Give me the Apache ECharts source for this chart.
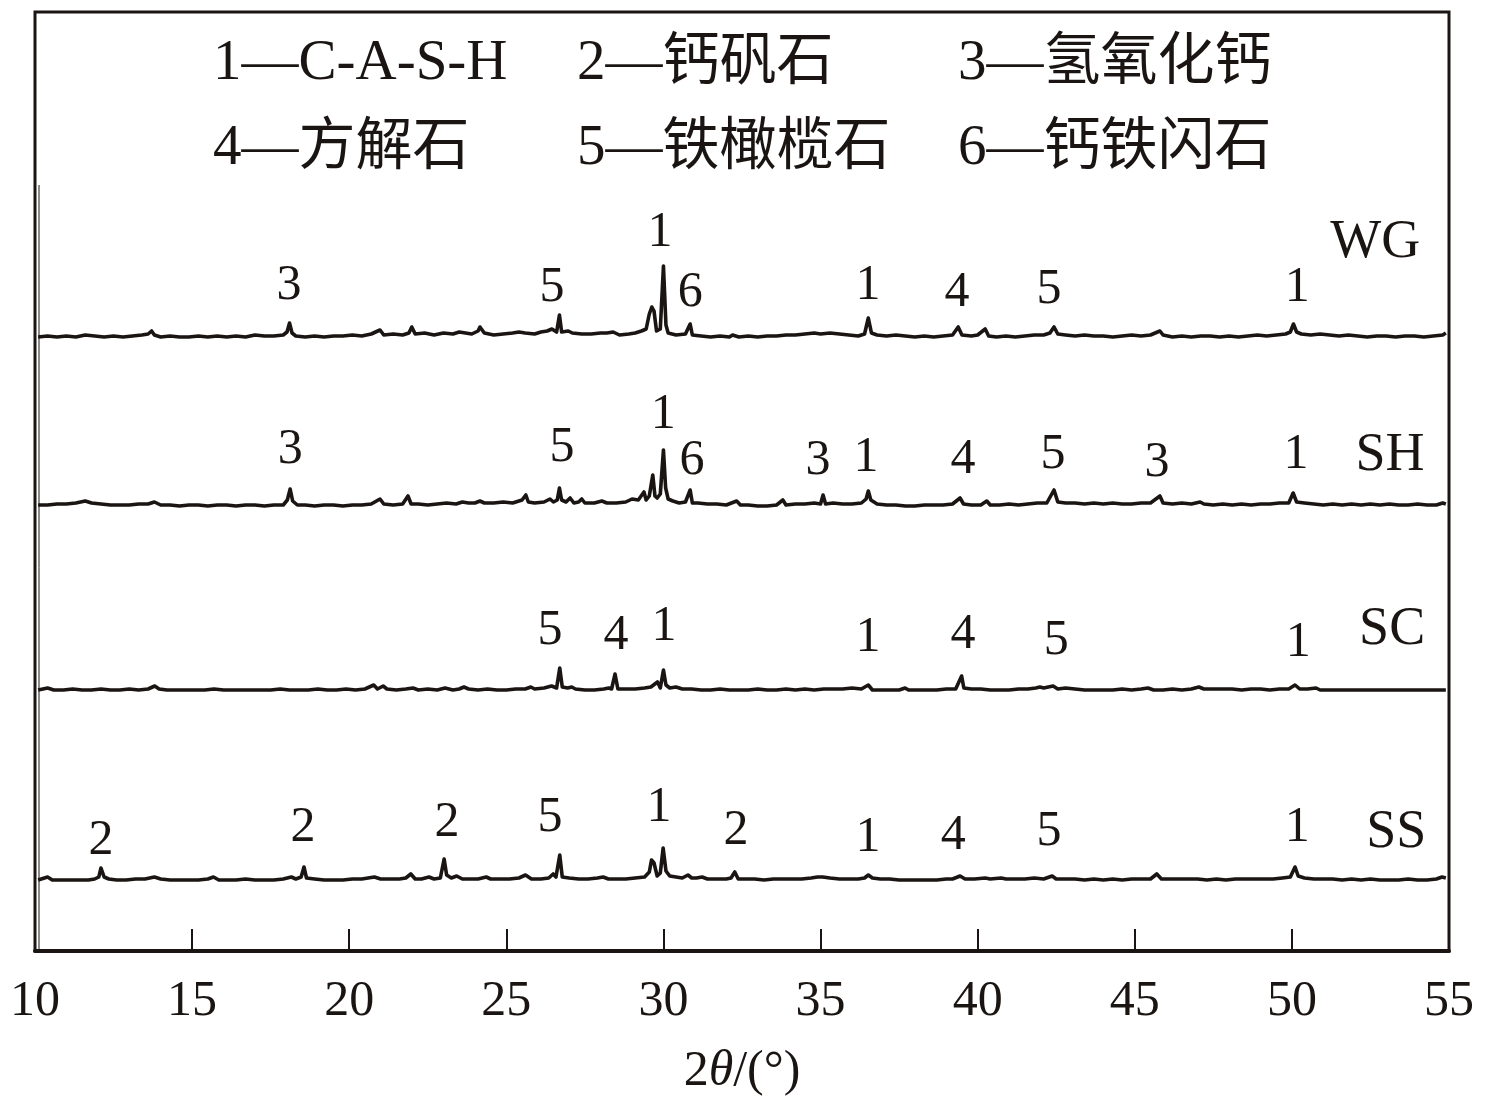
<!DOCTYPE html>
<html><head><meta charset="utf-8">
<script src="https://cdn.jsdelivr.net/npm/echarts@6/dist/echarts.min.js"></script>
<style>html,body{margin:0;padding:0;background:#fff}#c{width:1485px;height:1112px}</style>
</head><body><div id="c"></div>
<script>
// 2θ ticks
const xTicks = [10, 15, 20, 25, 30, 35, 40, 45, 50, 55];
const sampleNames = ['WG', 'SH', 'SC', 'SS'];
// vertical stacking offsets (arbitrary intensity units)
const offsets = [612, 443, 258, 68];

// [2θ, intensity]
const WG = [[10.1,2],[10.4,3],[10.7,2],[11.0,3],[11.3,2],[11.6,4],[11.9,3],[12.2,2],[12.5,3],[12.8,2],[13.1,3],[13.4,4],[13.6,5],[13.71,8],[13.8,4],[14.0,2],[14.3,3],[14.6,2],[14.9,2],[15.2,3],[15.5,2],[15.8,3],[16.1,2],[16.4,3],[16.7,2],[17.0,4],[17.3,3],[17.6,3],[17.9,4],[18.02,7],[18.1,16],[18.18,6],[18.3,3],[18.6,2],[18.9,3],[19.2,2],[19.5,3],[19.8,3],[20.1,4],[20.4,3],[20.7,5],[20.98,9],[21.1,4],[21.4,5],[21.7,4],[21.9,6],[21.99,12],[22.1,5],[22.4,6],[22.7,4],[23.0,6],[23.3,5],[23.5,7],[23.7,6],[23.9,5],[24.1,8],[24.16,12],[24.3,6],[24.6,4],[24.9,5],[25.2,6],[25.4,7],[25.6,6],[25.9,5],[26.1,7],[26.3,8],[26.45,10],[26.6,7],[26.69,24],[26.76,7],[26.97,8],[27.1,6],[27.4,5],[27.7,5],[28.0,6],[28.2,6],[28.4,7],[28.6,4],[28.9,5],[29.1,6],[29.3,8],[29.45,10],[29.55,25],[29.63,32],[29.7,28],[29.78,8],[29.9,10],[30.0,73],[30.08,14],[30.15,6],[30.4,4],[30.7,5],[30.85,15],[30.92,4],[31.2,3],[31.5,2],[31.8,3],[32.1,2],[32.2,4],[32.4,2],[32.7,3],[33.0,2],[33.3,3],[33.6,3],[33.9,4],[34.2,4],[34.5,5],[34.8,6],[35.0,5],[35.3,6],[35.6,5],[35.9,4],[36.2,3],[36.4,5],[36.52,21],[36.62,6],[36.8,4],[37.1,3],[37.4,4],[37.7,3],[38.0,2],[38.3,3],[38.6,2],[38.9,3],[39.2,4],[39.38,12],[39.5,4],[39.8,3],[40.0,4],[40.24,10],[40.35,3],[40.6,2],[40.9,3],[41.2,2],[41.5,3],[41.8,4],[42.1,4],[42.3,6],[42.43,12],[42.55,5],[42.8,4],[43.1,3],[43.4,4],[43.7,3],[44.0,3],[44.3,2],[44.6,3],[44.9,4],[45.2,3],[45.5,4],[45.8,8],[45.9,4],[46.2,2],[46.5,3],[46.8,2],[47.1,3],[47.4,3],[47.7,2],[48.0,3],[48.3,2],[48.6,3],[48.9,4],[49.2,3],[49.5,4],[49.8,5],[49.95,7],[50.05,15],[50.15,7],[50.3,5],[50.6,4],[50.9,5],[51.2,4],[51.5,3],[51.8,4],[52.1,3],[52.4,2],[52.7,3],[53.0,3],[53.3,2],[53.6,3],[53.9,3],[54.2,2],[54.5,3],[54.8,4],[54.9,6]];

const SH = [[10.1,3],[10.4,3],[10.7,4],[11.0,4],[11.3,5],[11.6,7],[11.8,5],[12.1,4],[12.4,3],[12.7,3],[13.0,3],[13.3,4],[13.6,4],[13.8,6],[14.0,3],[14.3,3],[14.6,2],[14.9,3],[15.2,3],[15.5,2],[15.8,3],[16.1,3],[16.4,2],[16.7,3],[17.0,3],[17.3,2],[17.6,3],[17.9,3],[18.03,8],[18.12,19],[18.2,7],[18.35,3],[18.6,3],[18.9,2],[19.2,3],[19.5,3],[19.8,2],[20.1,3],[20.4,3],[20.7,4],[20.98,9],[21.1,4],[21.4,3],[21.7,4],[21.87,12],[21.97,4],[22.2,4],[22.5,3],[22.8,4],[23.1,5],[23.4,4],[23.6,6],[23.8,5],[24.0,5],[24.16,7],[24.3,5],[24.6,5],[24.9,6],[25.2,5],[25.4,7],[25.5,8],[25.62,13],[25.7,6],[25.9,5],[26.2,6],[26.39,9],[26.5,6],[26.62,8],[26.69,20],[26.76,8],[26.9,6],[27.03,10],[27.15,5],[27.3,6],[27.4,9],[27.5,5],[27.8,5],[28.04,7],[28.2,5],[28.5,5],[28.8,6],[29.0,9],[29.2,8],[29.38,16],[29.45,8],[29.55,12],[29.66,33],[29.73,12],[29.8,10],[29.9,14],[30.0,58],[30.07,20],[30.15,9],[30.3,7],[30.5,5],[30.7,6],[30.85,18],[30.92,5],[31.1,5],[31.4,4],[31.7,4],[32.0,3],[32.33,7],[32.45,3],[32.7,3],[33.0,2],[33.3,2],[33.6,3],[33.8,8],[33.9,3],[34.2,4],[34.5,4],[34.8,5],[35.0,4],[35.08,13],[35.16,4],[35.4,5],[35.7,4],[36.0,4],[36.3,5],[36.45,9],[36.52,17],[36.6,8],[36.8,4],[37.1,3],[37.4,3],[37.7,2],[38.0,2],[38.3,3],[38.6,3],[38.9,3],[39.2,4],[39.44,10],[39.55,4],[39.8,3],[40.1,3],[40.29,7],[40.4,3],[40.7,3],[41.0,4],[41.3,3],[41.6,4],[41.9,5],[42.2,5],[42.43,18],[42.55,6],[42.8,5],[43.1,5],[43.4,4],[43.7,5],[44.0,4],[44.3,5],[44.6,4],[44.9,4],[45.2,5],[45.5,5],[45.8,12],[45.9,5],[46.2,4],[46.5,5],[46.8,4],[47.08,6],[47.2,4],[47.5,3],[47.8,4],[48.1,3],[48.4,4],[48.7,3],[49.0,4],[49.3,4],[49.6,5],[49.9,5],[50.04,15],[50.15,6],[50.4,5],[50.7,4],[51.0,3],[51.3,4],[51.6,3],[51.9,4],[52.2,3],[52.5,4],[52.8,3],[53.1,4],[53.4,3],[53.7,3],[54.0,4],[54.3,3],[54.6,3],[54.8,5],[54.9,4]];

const SC = [[10.1,3],[10.4,5],[10.6,3],[10.9,3],[11.2,4],[11.5,3],[11.8,3],[12.1,4],[12.4,3],[12.7,3],[13.0,4],[13.3,3],[13.6,4],[13.81,7],[13.95,4],[14.2,3],[14.5,3],[14.8,3],[15.1,3],[15.4,3],[15.7,4],[16.0,3],[16.3,3],[16.6,3],[16.9,3],[17.2,3],[17.5,3],[17.8,4],[18.1,3],[18.4,3],[18.7,3],[19.0,4],[19.3,3],[19.6,3],[19.9,4],[20.2,3],[20.5,4],[20.78,8],[20.9,4],[21.08,7],[21.2,4],[21.5,3],[21.8,4],[22.03,5],[22.2,3],[22.5,4],[22.8,3],[23.05,5],[23.3,3],[23.5,4],[23.65,6],[23.8,4],[24.1,3],[24.4,4],[24.7,3],[25.0,3],[25.3,4],[25.6,4],[25.78,6],[25.9,4],[26.2,5],[26.44,7],[26.6,5],[26.7,25],[26.78,6],[26.95,5],[27.08,6],[27.2,4],[27.5,3],[27.8,3],[28.1,4],[28.26,5],[28.35,4],[28.46,19],[28.55,4],[28.8,4],[29.1,4],[29.4,5],[29.6,6],[29.81,11],[29.9,5],[30.0,23],[30.08,8],[30.2,5],[30.4,6],[30.6,4],[30.9,4],[31.2,3],[31.5,3],[31.8,4],[32.1,3],[32.4,3],[32.7,3],[33.0,4],[33.3,3],[33.6,3],[33.9,4],[34.2,3],[34.5,4],[34.8,3],[35.1,4],[35.4,4],[35.7,4],[36.0,5],[36.3,4],[36.52,8],[36.65,3],[36.9,3],[37.2,3],[37.5,3],[37.69,5],[37.8,3],[38.1,3],[38.4,3],[38.7,3],[39.0,4],[39.3,4],[39.49,17],[39.56,5],[39.8,4],[40.1,4],[40.4,3],[40.7,3],[41.0,3],[41.3,4],[41.6,4],[41.85,5],[41.98,6],[42.1,5],[42.4,7],[42.55,4],[42.8,5],[43.1,4],[43.4,3],[43.7,3],[44.0,3],[44.3,3],[44.6,4],[44.9,3],[45.2,4],[45.42,5],[45.6,3],[45.9,3],[46.2,4],[46.5,3],[46.8,4],[47.04,6],[47.2,4],[47.5,4],[47.8,4],[48.1,4],[48.4,3],[48.7,4],[49.0,4],[49.3,3],[49.6,4],[49.9,4],[50.1,8],[50.25,4],[50.5,4],[50.77,5],[50.9,3],[51.2,3],[51.5,3],[51.8,3],[52.1,3],[52.4,3],[52.7,3],[53.0,3],[53.3,3],[53.6,3],[53.9,3],[54.2,3],[54.5,3],[54.8,3],[54.9,3]];

const SS = [[10.1,3],[10.4,6],[10.55,3],[10.8,3],[11.1,3],[11.4,3],[11.7,3],[11.9,4],[12.03,6],[12.1,15],[12.2,6],[12.35,4],[12.6,3],[12.9,3],[13.2,4],[13.5,4],[13.8,6],[14.0,4],[14.3,3],[14.6,3],[14.9,3],[15.2,3],[15.5,4],[15.68,6],[15.85,3],[16.1,3],[16.4,3],[16.7,4],[17.0,3],[17.3,3],[17.6,3],[17.9,4],[18.16,6],[18.3,4],[18.47,6],[18.56,16],[18.64,5],[18.9,4],[19.2,3],[19.5,3],[19.8,3],[20.1,4],[20.4,4],[20.6,5],[20.8,6],[21.0,4],[21.3,4],[21.6,4],[21.8,5],[21.96,9],[22.1,4],[22.3,4],[22.54,6],[22.7,4],[22.9,5],[23.02,24],[23.1,8],[23.25,5],[23.42,7],[23.6,4],[23.9,4],[24.1,4],[24.36,6],[24.5,4],[24.8,4],[25.1,4],[25.4,5],[25.61,8],[25.8,4],[26.1,4],[26.35,5],[26.49,9],[26.58,6],[26.7,28],[26.78,6],[27.0,5],[27.3,4],[27.6,4],[27.9,5],[28.08,6],[28.25,4],[28.5,4],[28.8,4],[29.1,5],[29.4,6],[29.55,11],[29.62,23],[29.7,20],[29.8,7],[29.9,10],[29.99,35],[30.08,12],[30.2,7],[30.4,6],[30.6,5],[30.78,8],[30.9,5],[31.05,5],[31.23,6],[31.4,4],[31.7,4],[32.0,4],[32.15,5],[32.27,11],[32.38,4],[32.6,4],[32.9,4],[33.2,3],[33.5,4],[33.8,4],[34.1,4],[34.4,4],[34.7,5],[34.9,6],[35.07,6],[35.3,5],[35.6,4],[35.9,4],[36.2,4],[36.4,5],[36.52,8],[36.65,5],[36.9,4],[37.2,4],[37.5,3],[37.8,3],[38.1,3],[38.4,3],[38.7,3],[39.0,4],[39.2,4],[39.44,7],[39.6,4],[39.9,4],[40.24,5],[40.4,4],[40.75,5],[40.9,4],[41.2,4],[41.5,4],[41.8,5],[42.1,4],[42.37,7],[42.5,4],[42.8,4],[43.1,4],[43.4,3],[43.7,4],[44.0,3],[44.3,4],[44.6,3],[44.9,4],[45.2,4],[45.5,4],[45.7,9],[45.85,4],[46.1,4],[46.4,4],[46.7,4],[47.0,4],[47.3,3],[47.6,4],[47.9,3],[48.2,4],[48.5,4],[48.8,4],[49.1,4],[49.4,4],[49.7,5],[49.95,6],[50.1,16],[50.2,7],[50.4,5],[50.7,4],[51.0,4],[51.3,4],[51.6,3],[51.9,4],[52.2,3],[52.5,4],[52.8,3],[53.1,3],[53.4,3],[53.7,4],[54.0,3],[54.3,3],[54.6,4],[54.78,6],[54.9,5]];

// peak labels: [2θ, height above baseline, phase number]
const WG_labels = [[18.08,53,'3'],[26.45,51,'5'],[29.89,106,'1'],[30.85,46,'6'],[36.51,53,'1'],[39.34,46,'4'],[42.27,49,'5'],[50.17,51,'1']];
const SH_labels = [[18.12,58,'3'],[26.77,60,'5'],[29.99,93,'1'],[30.91,47,'6'],[34.92,47,'3'],[36.45,50,'1'],[39.53,48,'4'],[42.40,53,'5'],[45.71,45,'3'],[50.13,53,'1']];
const SC_labels = [[26.39,62,'5'],[28.49,57,'4'],[30.02,66,'1'],[36.51,55,'1'],[39.53,58,'4'],[42.50,52,'5'],[50.20,50,'1']];
const SS_labels = [[12.10,42,'2'],[18.53,55,'2'],[23.11,60,'2'],[26.39,65,'5'],[29.86,75,'1'],[32.31,52,'2'],[36.51,45,'1'],[39.22,47,'4'],[42.27,51,'5'],[50.17,55,'1']];
// sample name positions: [2θ, height above baseline]
const nameLabels = [[52.65,96],[53.12,52],[53.19,63],[53.32,50]];

const legendRow1 = ['1—C-A-S-H', '2—钙矾石', '3—氢氧化钙'];
const legendRow2 = ['4—方解石', '5—铁橄榄石', '6—钙铁闪石'];

const traces = [WG, SH, SC, SS];
const peakLabels = [WG_labels, SH_labels, SC_labels, SS_labels];

const FONT = '"Liberation Serif", "Times New Roman", "Noto Sans CJK SC", serif';
const INK = '#1a1512';

const series = [];
traces.forEach((tr, i) => {
  series.push({
    type: 'line', name: sampleNames[i], showSymbol: false, symbol: 'none',
    data: tr.map(p => [p[0], p[1] + offsets[i]]),
    lineStyle: { color: INK, width: 3.6, join: 'round' }, animation: false, z: 3
  });
  series.push({
    type: 'scatter', symbolSize: 0, silent: true, animation: false,
    itemStyle: { opacity: 1 },
    data: peakLabels[i].map(l => [l[0], l[1] + offsets[i], l[2]]),
    label: { show: true, position: 'inside', formatter: p => p.data[2],
      fontFamily: FONT, fontSize: 50, color: INK }
  });
  series.push({
    type: 'scatter', symbolSize: 0, silent: true, animation: false,
    itemStyle: { opacity: 1 },
    data: [[nameLabels[i][0], nameLabels[i][1] + offsets[i], sampleNames[i]]],
    label: { show: true, position: 'inside', formatter: p => p.data[2],
      fontFamily: FONT, fontSize: 54, color: INK }
  });
});

const legendX = [213, 577, 958];
const graphics = [];
legendRow1.forEach((t, k) => graphics.push({ type: 'text', left: legendX[k], top: 36,
  style: { text: t, font: '57px ' + FONT, fill: INK } }));
legendRow2.forEach((t, k) => graphics.push({ type: 'text', left: legendX[k], top: 121,
  style: { text: t, font: '57px ' + FONT, fill: INK } }));
// thin inner line next to the left frame edge
graphics.push({ type: 'line', shape: { x1: 39, y1: 185, x2: 39, y2: 950 }, style: { stroke: INK, lineWidth: 1 } });

const chart = echarts.init(document.getElementById('c'), null, { renderer: 'canvas' });
chart.setOption({
  backgroundColor: '#fff',
  animation: false,
  grid: { left: 35, right: 36, top: 12, bottom: 161, show: true, borderColor: INK, borderWidth: 3, containLabel: false },
  xAxis: {
    type: 'value', min: xTicks[0], max: xTicks[xTicks.length - 1], interval: 5,
    axisLine: { show: true, lineStyle: { color: INK, width: 4 } },
    axisTick: { show: true, inside: true, length: 22, lineStyle: { color: INK, width: 2 } },
    axisLabel: { fontFamily: FONT, fontSize: 50, color: INK, margin: 26 },
    splitLine: { show: false },
    name: '{n|2}{i|θ}{n|/(°)}', nameLocation: 'middle', nameGap: 96,
    nameTextStyle: { rich: { n: { fontFamily: FONT, fontSize: 50, color: INK }, i: { fontFamily: FONT, fontSize: 50, fontStyle: 'italic', color: INK } } }
  },
  yAxis: { type: 'value', min: 0, max: 939, show: false },
  series: series,
  graphic: graphics
});
</script></body></html>
